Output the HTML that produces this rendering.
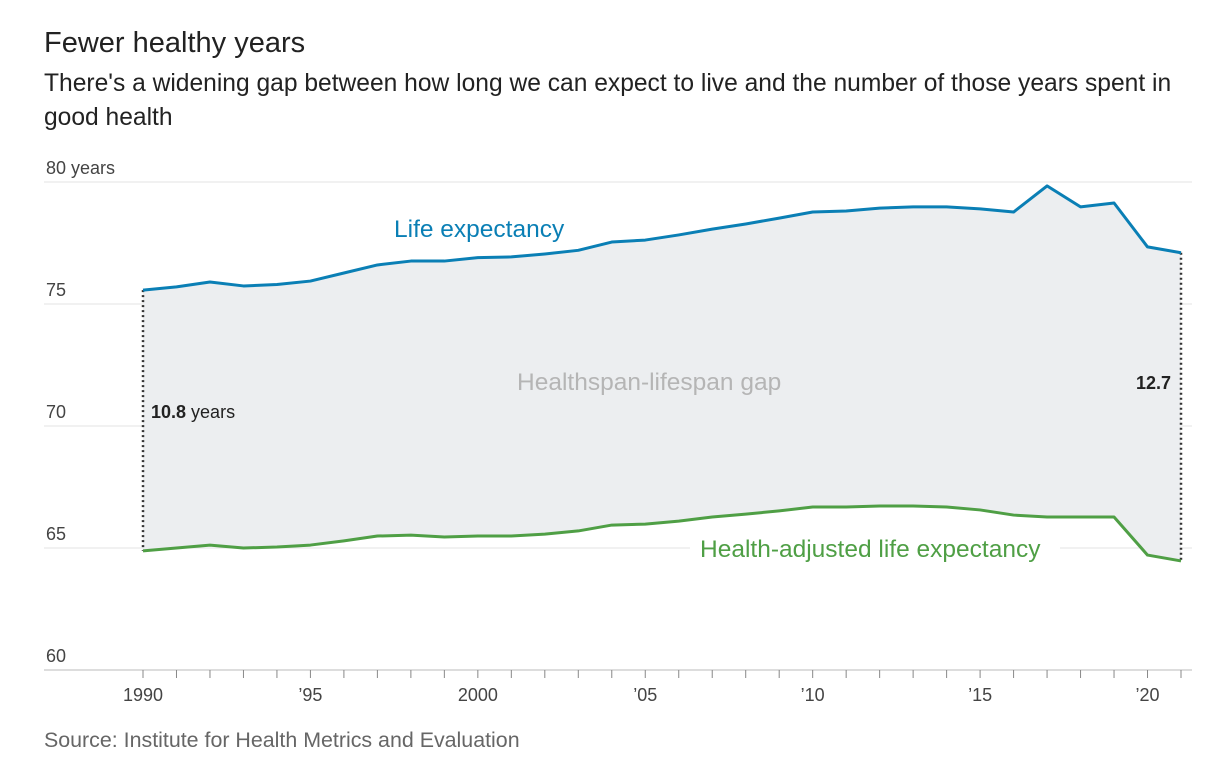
<!DOCTYPE html>
<html><head><meta charset="utf-8">
<style>
body{margin:0;background:#fff;font-family:"Liberation Sans",Arial,sans-serif;}
#wrap{position:relative;width:1224px;height:772px;overflow:hidden}
h1{position:absolute;left:44px;top:27px;margin:0;font-size:29px;font-weight:normal;color:#222}
.sub{position:absolute;left:44px;top:67px;width:1150px;font-size:24.6px;line-height:34px;color:#222}
.src{position:absolute;left:44px;top:728px;font-size:21.4px;color:#666}
svg{position:absolute;left:0;top:0}
</style></head><body>
<div id="wrap">
<h1>Fewer healthy years</h1>
<div class="sub">There's a widening gap between how long we can expect to live and the number of those years spent in good health</div>
<svg id="chart" width="1224" height="772"></svg>
<div class="src">Source: Institute for Health Metrics and Evaluation</div>
</div>
<script>
const years=[1990,1991,1992,1993,1994,1995,1996,1997,1998,1999,2000,2001,2002,2003,2004,2005,2006,2007,2008,2009,2010,2011,2012,2013,2014,2015,2016,2017,2018,2019,2020,2021];
const lifeExp=[75.57,75.7,75.9,75.74,75.8,75.94,76.27,76.6,76.76,76.76,76.9,76.93,77.05,77.2,77.54,77.62,77.83,78.07,78.28,78.52,78.77,78.81,78.93,78.98,78.98,78.9,78.77,79.84,78.98,79.14,77.34,77.1];
const hale=[64.88,65.0,65.12,65.0,65.04,65.12,65.29,65.49,65.53,65.45,65.49,65.49,65.57,65.7,65.94,65.98,66.1,66.27,66.39,66.52,66.68,66.68,66.72,66.72,66.68,66.56,66.35,66.27,66.27,66.27,64.71,64.47];
const yTicks=[60,65,70,75,80];
const xTickYears=[1990,1995,2000,2005,2010,2015,2020];
const xTickLabels=["1990","\u201995","2000","\u201905","\u201910","\u201915","\u201920"];
const NS="http://www.w3.org/2000/svg";
const svg=document.getElementById('chart');
const x=v=>143+(v-1990)*(1181-143)/31;
const y=v=>670-(v-60)*(670-182)/20;
function el(t,a,txt){const e=document.createElementNS(NS,t);for(const k in a)e.setAttribute(k,a[k]);if(txt!==undefined)e.textContent=txt;svg.appendChild(e);return e;}
yTicks.forEach(v=>{
  const g=el('line',{x1:44,x2:1192,y1:y(v),y2:y(v),stroke:v===60?'#bbb':'#e3e3e3','stroke-width':1});
  
  
  const t=el('text',{x:46,y:y(v)-8,'font-size':18,fill:'#444','font-family':'Liberation Sans, sans-serif'},v===80?'80 years':String(v));
  
  
});
let d='M'+years.map((yr,i)=>x(yr)+','+y(lifeExp[i])).join('L');
for(let i=years.length-1;i>=0;i--)d+='L'+x(years[i])+','+y(hale[i]);
const area=el('path',{d:d+'Z',fill:'#eceef0'});


years.forEach(yr=>{
  const t=el('line',{x1:x(yr),x2:x(yr),y1:670,y2:678,stroke:'#888','stroke-width':1});
  
  
});
xTickYears.forEach((yr,i)=>{
  const t=el('text',{x:x(yr),y:701,'font-size':18,fill:'#444','text-anchor':'middle'},xTickLabels[i]);
  
  
});
[0,years.length-1].forEach(i=>{
  const l=el('line',{x1:x(years[i]),x2:x(years[i]),y1:y(lifeExp[i]),y2:y(hale[i]),stroke:'#333','stroke-width':2.5,'stroke-dasharray':'2 3'});
  
  
});
const bg=el('rect',{x:690,y:y(65)-4,width:370,height:8,fill:'#fff'});


const l1=el('polyline',{points:years.map((yr,i)=>x(yr)+','+y(lifeExp[i])).join(' '),fill:'none',stroke:'#0a7fb5','stroke-width':3,'stroke-linejoin':'round'});


const l2=el('polyline',{points:years.map((yr,i)=>x(yr)+','+y(hale[i])).join(' '),fill:'none',stroke:'#4f9f45','stroke-width':3,'stroke-linejoin':'round'});


const a=el('text',{x:394,y:237,'font-size':24.5,fill:'#0a7fb5'},'Life expectancy');


const b=el('text',{x:700,y:557,'font-size':24.5,fill:'#4f9f45'},'Health-adjusted life expectancy');


const c=el('text',{x:517,y:390,'font-size':24.5,fill:'#b5b5b5'},'Healthspan-lifespan gap');


const g1=el('text',{x:151,y:418,'font-size':18,fill:'#222'});
g1.innerHTML='<tspan font-weight="bold">10.8</tspan> years';


const g2=el('text',{x:1171,y:389,'font-size':18,fill:'#222','font-weight':'bold','text-anchor':'end'},'12.7');


</script>
</body></html>
